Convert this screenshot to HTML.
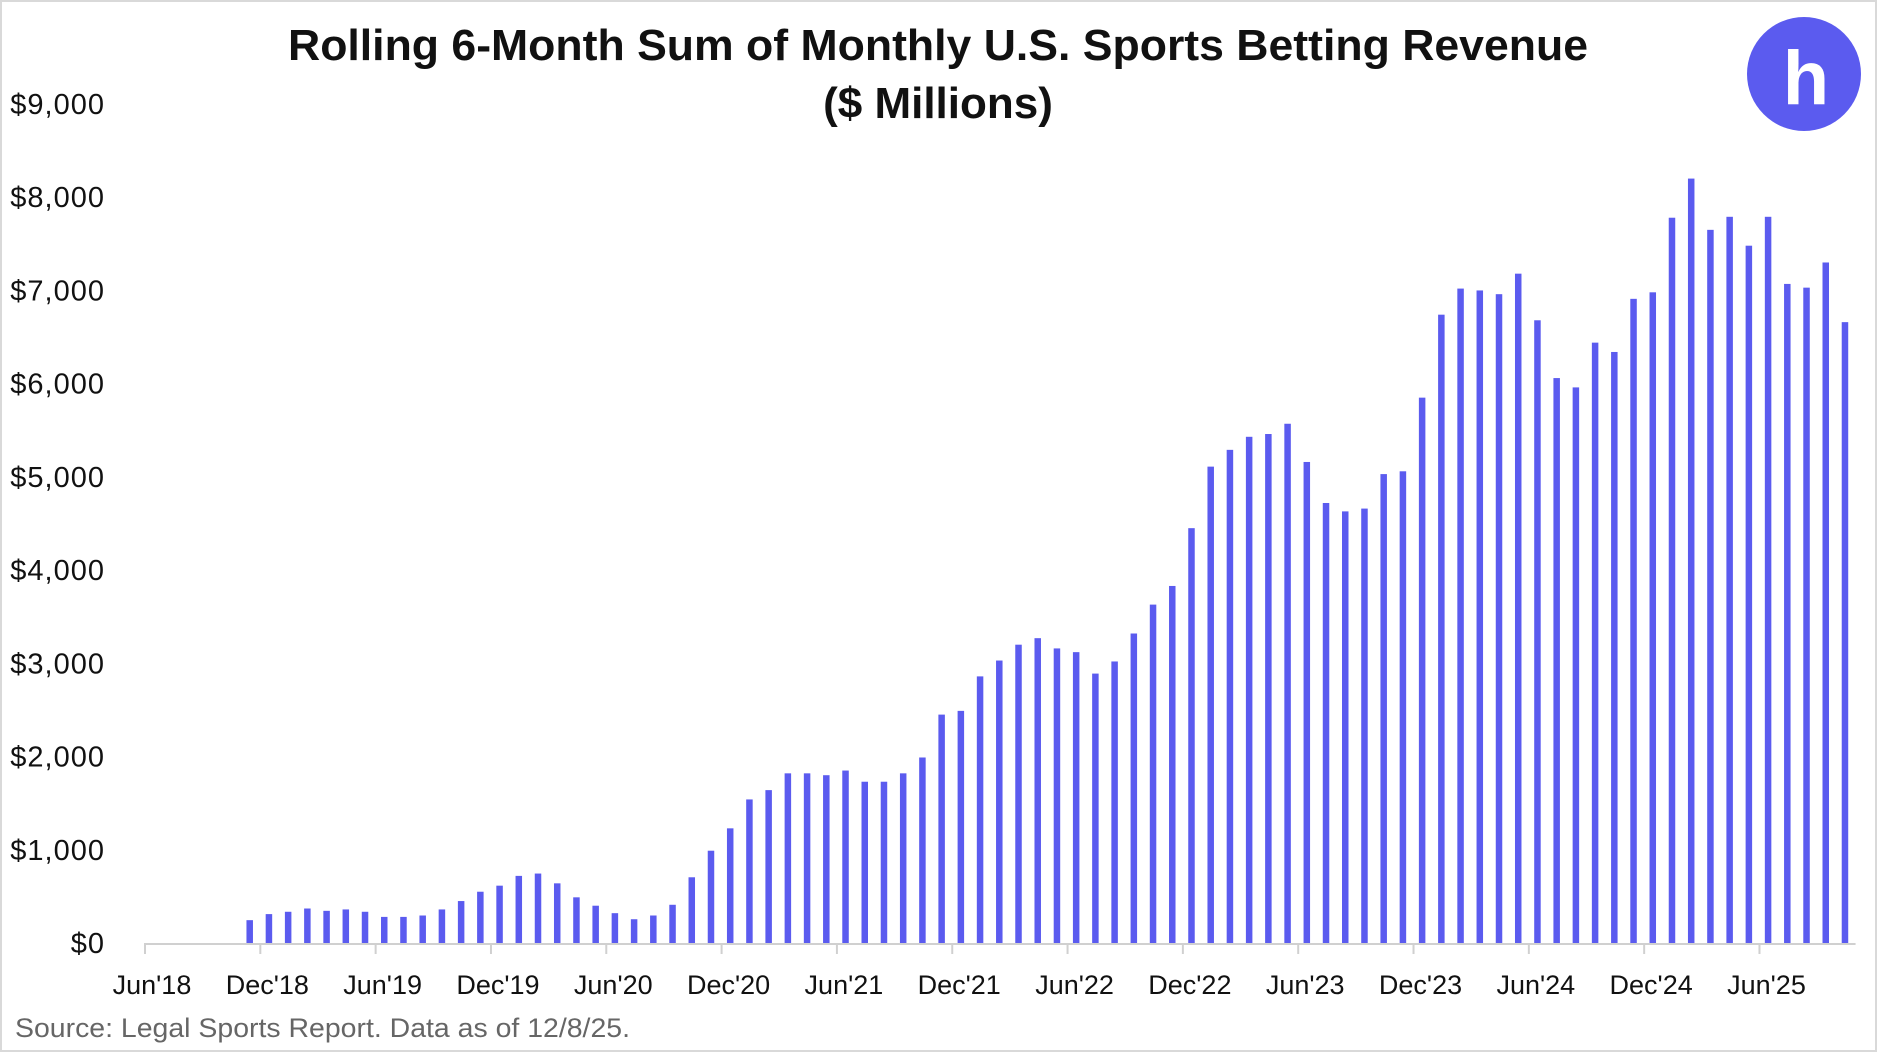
<!DOCTYPE html>
<html><head><meta charset="utf-8"><style>
html,body{margin:0;padding:0;background:#fff;}
svg{display:block;font-family:"Liberation Sans",sans-serif;}
</style></head><body>
<svg id="chart" width="1877" height="1052" viewBox="0 0 1877 1052">
<rect x="1" y="1" width="1875" height="1050" fill="#fff" stroke="#d9d9d9" stroke-width="2"/>
<text x="938" y="60" text-anchor="middle" font-size="44" font-weight="bold" fill="#111" textLength="1300" lengthAdjust="spacingAndGlyphs">Rolling 6-Month Sum of Monthly U.S. Sports Betting Revenue</text>
<text x="938" y="118" text-anchor="middle" font-size="44" font-weight="bold" fill="#111">($ Millions)</text>
<g>
<circle cx="1804" cy="74" r="57" fill="#5b5bef"/>
<text x="1806" y="104" text-anchor="middle" font-size="76" font-weight="bold" fill="#fff">h</text>
</g>
<g id="yaxis"></g>
<g id="bars"></g>
<g id="xaxis"></g>
<text x="15" y="1037" font-size="27" fill="#666" textLength="615" lengthAdjust="spacingAndGlyphs">Source: Legal Sports Report. Data as of 12/8/25.</text>
</svg>
<script>
const months = ["Jun'18","Jul'18","Aug'18","Sep'18","Oct'18","Nov'18","Dec'18","Jan'19","Feb'19","Mar'19","Apr'19","May'19","Jun'19","Jul'19","Aug'19","Sep'19","Oct'19","Nov'19","Dec'19","Jan'20","Feb'20","Mar'20","Apr'20","May'20","Jun'20","Jul'20","Aug'20","Sep'20","Oct'20","Nov'20","Dec'20","Jan'21","Feb'21","Mar'21","Apr'21","May'21","Jun'21","Jul'21","Aug'21","Sep'21","Oct'21","Nov'21","Dec'21","Jan'22","Feb'22","Mar'22","Apr'22","May'22","Jun'22","Jul'22","Aug'22","Sep'22","Oct'22","Nov'22","Dec'22","Jan'23","Feb'23","Mar'23","Apr'23","May'23","Jun'23","Jul'23","Aug'23","Sep'23","Oct'23","Nov'23","Dec'23","Jan'24","Feb'24","Mar'24","Apr'24","May'24","Jun'24","Jul'24","Aug'24","Sep'24","Oct'24","Nov'24","Dec'24","Jan'25","Feb'25","Mar'25","Apr'25","May'25","Jun'25","Jul'25","Aug'25","Sep'25","Oct'25"];
const revenue = [null,null,null,null,null,245,310,335,370,345,360,335,280,280,295,360,450,550,615,720,745,640,490,400,320,255,295,410,705,990,1230,1540,1640,1820,1820,1800,1850,1730,1730,1820,1990,2450,2490,2860,3030,3200,3270,3160,3120,2890,3020,3320,3630,3830,4450,5110,5290,5430,5460,5570,5160,4720,4630,4660,5030,5060,5850,6740,7020,7000,6960,7180,6680,6060,5960,6440,6340,6910,6980,7780,8200,7650,7790,7480,7790,7070,7030,7300,6660];
const yTicks = [0,1000,2000,3000,4000,5000,6000,7000,8000,9000];
const yTickLabels = ["$0","$1,000","$2,000","$3,000","$4,000","$5,000","$6,000","$7,000","$8,000","$9,000"];
const xTickLabels = ["Jun'18","Dec'18","Jun'19","Dec'19","Jun'20","Dec'20","Jun'21","Dec'21","Jun'22","Dec'22","Jun'23","Dec'23","Jun'24","Dec'24","Jun'25"];

const NS="http://www.w3.org/2000/svg";
const x0=145, step=19.22, yBase=943, yTop=104, yMax=9000;
const xBand=i=>x0+i*step;
const y=v=>yBase-(v/yMax)*(yBase-yTop);
function mk(tag,attrs,parent){const e=document.createElementNS(NS,tag);for(const k in attrs)e.setAttribute(k,attrs[k]);parent.appendChild(e);return e;}
const gy=document.getElementById('yaxis'),gb=document.getElementById('bars'),gx=document.getElementById('xaxis');
yTicks.forEach((t,i)=>{
  const tx=mk('text',{x:105,y:y(t)+10,'text-anchor':'end','font-size':29,fill:'#111','letter-spacing':'1'},gy);
  tx.textContent=yTickLabels[i];
  
  
});
revenue.forEach((v,i)=>{
  if(v==null)return;
  const w=6.5, cx=xBand(i)+step/2-1;
  const r=mk('rect',{x:cx-w/2,y:y(v),width:w,height:yBase-y(v),fill:'#5b5bef'},gb);
  
  
});
const axl=mk('line',{x1:x0,y1:yBase+1,x2:x0+months.length*step,y2:yBase+1,stroke:'#d0d0d0','stroke-width':2},gx);


xTickLabels.forEach(lbl=>{
  const i=months.indexOf(lbl), xx=xBand(i);
  const tk=mk('line',{x1:xx,y1:yBase,x2:xx,y2:yBase+11,stroke:'#d0d0d0','stroke-width':2},gx);
  
  
  const tx=mk('text',{x:xx+7,y:994,'text-anchor':'middle','font-size':27,fill:'#111'},gx);
  tx.textContent=lbl;
  
  
});
</script>
</body></html>
